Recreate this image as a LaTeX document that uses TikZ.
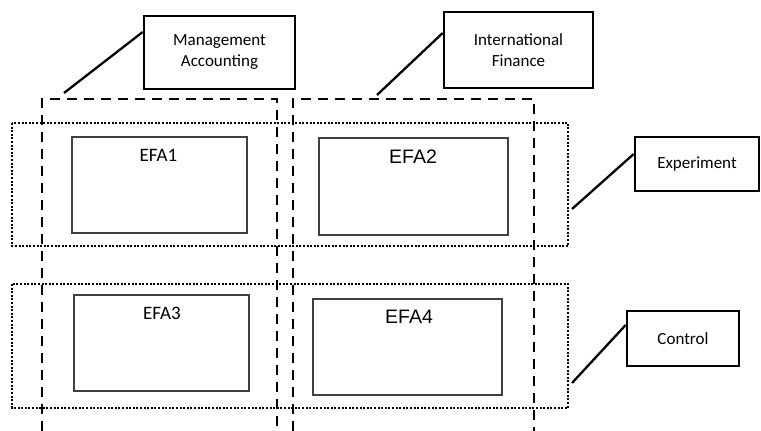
\documentclass[tikz,border=0pt]{standalone}
\usepackage{fontspec}
\setmainfont{Carlito}
\newfontfamily\arialfont{Liberation Sans}
\begin{document}
\begin{tikzpicture}[x=1pt,y=-1pt,
  labelbox/.style={draw=black, line width=2.6pt, fill=white, inner sep=0pt, align=center,
    font=\fontsize{17}{21}\selectfont},
  efabox/.style={draw=black!75, line width=1.3pt, inner sep=0pt},
  efatext/.style={inner sep=0pt, font=\fontsize{19}{22}\selectfont},
  efatextb/.style={inner sep=0pt, font=\arialfont\fontsize{19.5}{22}\selectfont},
  groupdash/.style={line width=2.7pt, dash pattern=on 10pt off 7pt},
  groupdot/.style={line width=2.1pt, dash pattern=on 2pt off 1.6pt},
  connector/.style={line width=2.3pt}
]
\useasboundingbox (0,0) rectangle (761,431);

% row groups (dotted)
\draw[groupdot] (12,123) rectangle (568,246);
\draw[groupdot] (12,284) rectangle (568,408);

% column groups (dashed)
\draw[groupdash] (42,431) -- (42,99) -- (277,99) -- (277,431);
\draw[groupdash] (293,431) -- (293,99) -- (534,99) -- (534,431);

% EFA boxes
\node[efabox, minimum width=175pt, minimum height=96pt] (efa1) at (159.5,185) {};
\node[efatext] (t1) at (158.5,155.5) {EFA1};
\node[efabox, minimum width=189pt, minimum height=97pt] (efa2) at (413.5,186.5) {};
\node[efatextb] (t2) at (413,156.5) {EFA2};
\node[efabox, minimum width=175pt, minimum height=96pt] (efa3) at (161.5,343) {};
\node[efatext] (t3) at (162,313) {EFA3};
\node[efabox, minimum width=189pt, minimum height=96pt] (efa4) at (407.5,347) {};
\node[efatextb] (t4) at (409,316.5) {EFA4};

% label boxes
\node[labelbox, minimum width=151pt, minimum height=73pt] (ma) at (219.5,52.5) {Management\\Accounting};
\node[labelbox, minimum width=149pt, minimum height=76pt] (inf) at (518.5,50) {International\\Finance};
\node[labelbox, minimum width=124pt, minimum height=54pt] (exp) at (697,164) {Experiment};
\node[labelbox, minimum width=112pt, minimum height=55pt] (ctl) at (683,338.5) {Control};

% connector ends
\coordinate (maend) at (64,93);
\coordinate (infend) at (377,95);
\coordinate (expend) at (572,209);
\coordinate (ctlend) at (572,383);

\draw[connector] (maend) -- (ma.west |- 0,32);
\draw[connector] (infend) -- (inf.west |- 0,33);
\draw[connector] (expend) -- (exp.west |- 0,154);
\draw[connector] (ctlend) -- (ctl.west |- 0,325);
\end{tikzpicture}
\end{document}
